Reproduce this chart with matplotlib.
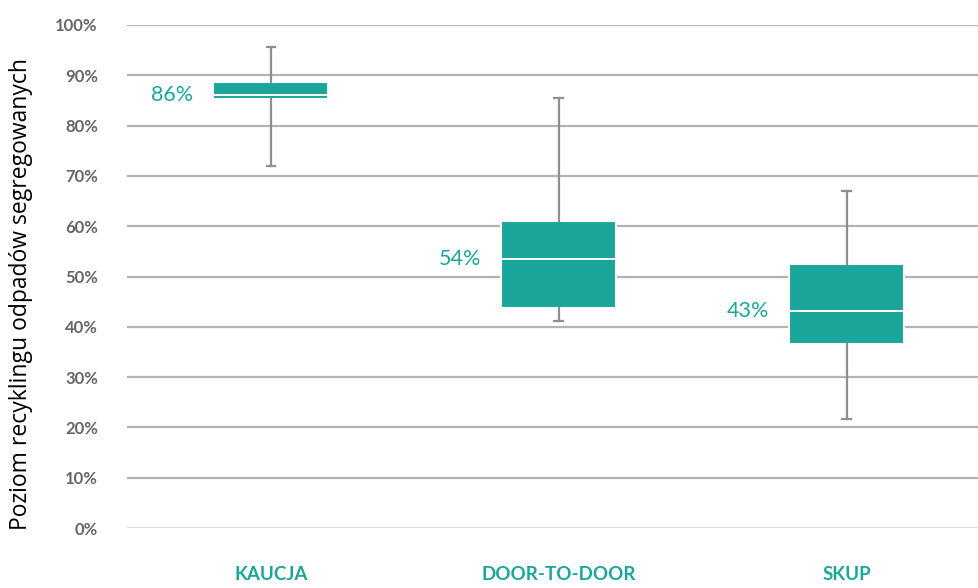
import matplotlib.pyplot as plt

# values (percent)
categories = ['KAUCJA', 'DOOR-TO-DOOR', 'SKUP']
whisker_low = [72.0, 41.2, 21.6]
q1 = [85.3, 43.8, 36.5]
median = [86.0, 53.5, 43.2]
q3 = [88.7, 61.0, 52.5]
whisker_high = [95.6, 85.5, 66.9]
median_labels = ['86%', '54%', '43%']
yticks = [0, 10, 20, 30, 40, 50, 60, 70, 80, 90, 100]

teal = '#1aa69a'
grey = '#8f8f8f'

fig = plt.figure(figsize=(9.79, 5.88), dpi=100)
ax = fig.add_axes([0.1297, 0.1020, 0.8703, 0.8555])

stats = []
for i, name in enumerate(categories):
    stats.append({
        'label': name,
        'whislo': whisker_low[i],
        'q1': q1[i],
        'med': median[i],
        'q3': q3[i],
        'whishi': whisker_high[i],
        'fliers': [],
    })

pos = list(range(len(categories)))
ax.bxp(stats, positions=pos, widths=0.4, showfliers=False, patch_artist=True,
       capwidths=0.03,
       boxprops=dict(facecolor=teal, edgecolor='white', linewidth=1.5),
       medianprops=dict(color='white', linewidth=1.4),
       whiskerprops=dict(color=grey, linewidth=1.6),
       capprops=dict(color=grey, linewidth=1.6),
       zorder=3)

# grid lines
for t in yticks:
    ax.axhline(t, color='#dcdcdc' if t == 0 else '#b3b3b3', linewidth=1.6, zorder=1)

# median labels to the left of each box
for i, lab in enumerate(median_labels):
    ax.text(pos[i] - 0.27, median[i], lab, ha='right', va='center',
            fontsize=15.5, color=teal, family='Lato')

ax.set_xlim(-0.5, 2.46)
ax.set_ylim(0, 100)
ax.set_yticks(yticks)
ax.set_yticklabels([f'{t}%' for t in yticks], fontsize=12, color='#666666',
                   family='Lato', fontweight='bold')
ax.tick_params(axis='y', length=0, pad=21)
ax.set_xticks(pos)
ax.set_xticklabels(categories, fontsize=13.5, color=teal, fontweight='bold', family='Lato')
ax.tick_params(axis='x', length=0, pad=27)

for s in ax.spines.values():
    s.set_visible(False)

fig.text(0.021, 0.5, 'Poziom recyklingu odpadów segregowanych', rotation=90,
         ha='center', va='center', fontsize=16.5, family='Open Sans', color='black')

fig.savefig('out.png', dpi=100)
